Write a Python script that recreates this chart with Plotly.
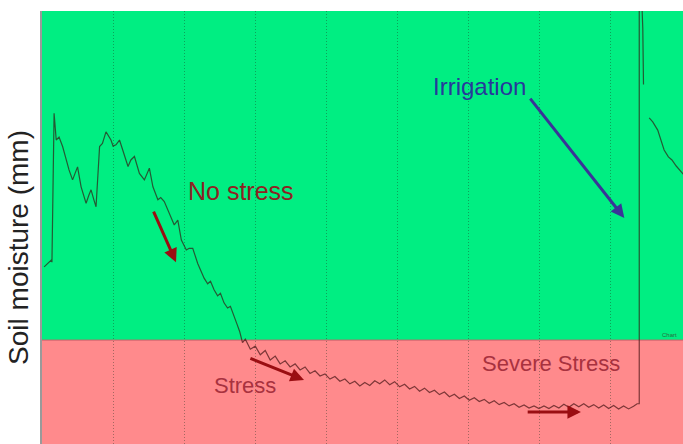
import plotly.graph_objects as go

# -- Colours --
COLOURS = {
    "ok": "#00EE82",
    "stress": "#FF8A8C",
    "boundary": "#C8606A",
    "curve": "rgba(55,10,10,0.65)",
    "red_text": "#8E2222",
    "stress_text": "#A8323F",
    "arrow_red": "#9A0E12",
    "blue": "#27399B",
    "arrow_blue": "#3A3498",
}

# Soil moisture record (day, mm); None marks a gap in the logger record
days = [
    0.03, 0.13, 0.14, 0.17, 0.20, 0.24, 0.29, 0.34, 0.38, 0.43, 0.50, 0.55,
    0.62, 0.66, 0.69, 0.73, 0.76, 0.81, 0.85, 0.90, 0.97, 1.00, 1.04, 1.09,
    1.16, 1.21, 1.25, 1.30, 1.37, 1.44, 1.51, 1.56, 1.63, 1.67, 1.72, 1.79,
    1.86, 1.91, 1.96, 2.03, 2.07, 2.12, 2.19, 2.28,
    2.33, 2.37, 2.42, 2.47, 2.51, 2.56, 2.61, 2.65, 2.70, 2.74, 2.78, 2.82,
    2.86, 2.93, 3.00, 3.07, 3.14, 3.21, 3.28, 3.35, 3.42, 3.49, 3.56, 3.63,
    3.70, 3.77, 3.84, 3.91, 3.98, 4.05, 4.12, 4.19, 4.26, 4.33, 4.40, 4.47,
    4.54, 4.61, 4.68, 4.75, 4.82, 4.89, 4.96, 5.03, 5.10, 5.17, 5.24, 5.31,
    5.38, 5.45, 5.52, 5.59, 5.66, 5.73, 5.80, 5.87, 5.94, 6.01, 6.08, 6.15,
    6.22, 6.29, 6.36, 6.43, 6.50, 6.57, 6.64, 6.71, 6.78, 6.85, 6.92, 6.99,
    7.06, 7.13, 7.20, 7.27, 7.34, 7.41, 7.48, 7.55, 7.62, 7.69, 7.76, 7.83,
    7.90, 7.97, 8.04, 8.11, 8.18, 8.25, 8.32, 8.37,
    8.40, 8.40, 8.43, 8.45, 8.46, None,
    8.54, 8.59, 8.66, 8.71, 8.75, 8.81, 8.86, 8.92, 8.97, 9.03,
]
moisture = [
    40.9, 42.5, 42.0, 76.4, 70.2, 70.9, 68.7, 65.6, 63.3, 61.0, 64.0, 59.4,
    55.6, 57.5, 58.7, 56.4, 54.8, 68.7, 69.4, 72.1, 70.2, 68.8, 69.1, 70.2,
    66.4, 64.1, 65.6, 66.4, 62.5, 61.0, 63.7, 59.4, 56.4, 56.9, 56.0, 53.3,
    50.6, 51.7, 47.1, 44.8, 45.2, 45.2, 41.7, 38.3,
    37.0, 37.6, 35.6, 34.2, 34.8, 32.6, 31.4, 31.8, 29.3, 27.8, 26.0, 23.4,
    24.2, 21.9, 22.6, 20.6, 21.6, 19.4, 20.3, 18.5, 19.2, 17.8, 18.5, 17.1,
    17.8, 16.3, 16.9, 15.7, 16.2, 15.0, 15.6, 14.5, 15.0, 13.9, 14.5, 13.4,
    14.2, 13.5, 14.6, 13.9, 14.8, 13.7, 14.4, 13.2, 13.8, 12.7, 13.3, 12.2,
    12.9, 11.9, 12.4, 11.4, 12.0, 10.9, 11.5, 10.5, 11.1, 10.1, 10.7, 9.8,
    10.3, 9.4, 10.0, 9.1, 9.6, 8.8, 9.3, 8.5, 9.0, 8.3, 8.8, 8.2,
    8.8, 8.2, 8.9, 8.3, 9.2, 8.5, 9.3, 8.6, 9.3, 8.5, 9.1, 8.3,
    9.0, 8.2, 8.9, 8.1, 8.8, 8.1, 8.7, 9.3,
    9.3, 105.0, 105.0, 96.0, 83.0, None,
    75.3, 74.4, 72.5, 70.2, 67.9, 66.3, 65.6, 64.2, 63.3, 62.1,
]

stress_threshold = 24.0   # mm, refill point between comfort and stress zones
day_ticks = [1, 2, 3, 4, 5, 6, 7, 8]

FONT = "Liberation Sans, Arial, sans-serif"

fig = go.Figure()

fig.add_trace(go.Scatter(
    x=days, y=moisture, mode="lines", connectgaps=False,
    line=dict(color=COLOURS["curve"], width=1.2),
    hoverinfo="skip", showlegend=False,
))

# Comfort and stress zones
fig.add_shape(type="rect", xref="paper", yref="y", x0=0, x1=1,
              y0=stress_threshold, y1=100, fillcolor=COLOURS["ok"],
              line_width=0, layer="below")
fig.add_shape(type="rect", xref="paper", yref="y", x0=0, x1=1,
              y0=0, y1=stress_threshold, fillcolor=COLOURS["stress"],
              line_width=0, layer="below")
fig.add_shape(type="line", xref="paper", yref="y", x0=0, x1=1,
              y0=stress_threshold, y1=stress_threshold,
              line=dict(color=COLOURS["boundary"], width=1), layer="below")


def label(text, x, y, colour, size):
    fig.add_annotation(x=x, y=y, text=text, showarrow=False,
                       font=dict(family=FONT, size=size, color=colour))


def arrow(x0, y0, x1, y1, colour, width=3):
    fig.add_annotation(x=x1, y=y1, ax=x0, ay=y0, axref="x", ayref="y",
                       text="", showarrow=True, arrowhead=2, arrowsize=0.9,
                       arrowwidth=width, arrowcolor=colour)


label("No stress", 2.80, 58.4, COLOURS["red_text"], 25)
label("Irrigation", 6.15, 82.5, COLOURS["blue"], 24)
label("Stress", 2.86, 13.6, COLOURS["stress_text"], 22)
label("Severe Stress", 7.16, 18.7, COLOURS["stress_text"], 22)

arrow(1.56, 54.0, 1.885, 42.0, COLOURS["arrow_red"])
arrow(2.91, 19.9, 3.685, 14.8, COLOURS["arrow_red"])
arrow(6.81, 7.4, 7.58, 7.4, COLOURS["arrow_red"])
arrow(6.85, 80.1, 8.19, 52.2, COLOURS["arrow_blue"], width=3)

fig.add_annotation(x=0.993, y=stress_threshold, xref="paper", yref="y",
                   xanchor="right", yanchor="bottom", text="Chart",
                   showarrow=False, font=dict(family=FONT, size=6, color="#2E6A40"))

# Axis title drawn as rotated text left of the plot
fig.add_annotation(x=-0.036, y=0.455, xref="paper", yref="paper",
                   xanchor="center", yanchor="middle",
                   text="Soil moisture (mm)", textangle=-90, showarrow=False,
                   font=dict(family=FONT, size=28, color="#222222"))

fig.update_layout(
    width=683, height=444,
    margin=dict(l=42, r=0, t=11, b=0),
    paper_bgcolor="white", plot_bgcolor=COLOURS["ok"],
    xaxis=dict(range=[0, 9.0155], tickvals=day_ticks, showticklabels=False,
               ticks="", showgrid=True, gridcolor="rgba(30,50,30,0.4)",
               griddash="1px,2px", gridwidth=1, zeroline=False, showline=False),
    yaxis=dict(range=[0, 100], showticklabels=False, ticks="", showgrid=False,
               zeroline=False, showline=True, linecolor="#9A9A9A", linewidth=2),
)

# drop the page's default body margin so the figure fills the window
fig.write_html("out.html", config={"displayModeBar": False},
               post_script="document.body.style.margin='0';")
